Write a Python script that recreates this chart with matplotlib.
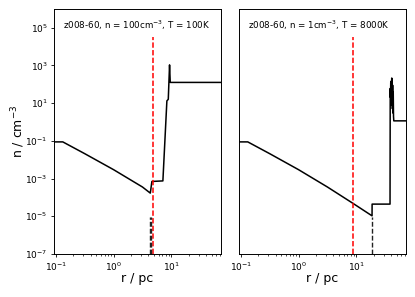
import matplotlib
matplotlib.use("Agg")
import matplotlib.pyplot as plt

# Left panel: n = 100 cm^-3, T = 100 K
r_left = [0.094, 0.132, 0.316, 1.0, 3.16, 4.3, 4.32, 4.6, 7.13, 8.36, 8.84, 9.3, 9.56, 72.0]
n_left = [0.088, 0.088, 0.0209, 2.95e-3, 3.55e-4, 1.7e-4, 1.7e-4, 7.0e-4, 7.5e-4, 13.2, 16.0, 1070.0, 126.0, 126.0]

# Right panel: n = 1 cm^-3, T = 8000 K
r_right = [0.094, 0.132, 0.316, 1.0, 3.16, 8.5, 18.7, 18.75, 38.3, 38.6, 39.0, 39.4, 39.8, 40.2,
           40.6, 41.0, 41.3, 41.7, 42.1, 42.5, 43.0, 43.5, 44.0, 44.5, 72.0]
n_right = [0.088, 0.088, 0.0209, 2.95e-3, 3.55e-4, 5.1e-5, 1.05e-5, 4.4e-5, 4.4e-5, 60.0, 20.0, 120.0,
           8.0, 150.0, 15.0, 215.0, 10.0, 180.0, 5.0, 90.0, 3.0, 40.0, 2.0, 1.15, 1.15]

titles = ["z008-60, n = 100cm$^{-3}$, T = 100K", "z008-60, n = 1cm$^{-3}$, T = 8000K"]
red_r = [4.78, 8.8]
red_top = 3.3e4
black_r = [[4.2, 4.45], [18.7]]
black_top = 9e-6
ybottom = 1e-7

fig = plt.figure(figsize=(4.15, 2.97), dpi=100)
ax1 = fig.add_axes([0.1308, 0.145, 0.4015, 0.825])
ax2 = fig.add_axes([0.5765, 0.145, 0.4015, 0.825])

for i, (ax, r, n) in enumerate([(ax1, r_left, n_left), (ax2, r_right, n_right)]):
    ax.plot(r, n, color="black", lw=1.1)
    ax.vlines(red_r[i], ybottom, red_top, colors="red", linestyles=(0, (3.5, 1.5)), lw=1.1)
    for br in black_r[i]:
        ax.vlines(br, ybottom, black_top, colors="#222222", linestyles=(0, (3.5, 1.5)), lw=1.0)
    ax.set_xscale("log")
    ax.set_yscale("log")
    ax.set_xlim(0.094, 72)
    ax.set_ylim(1e-7, 1e6)
    ax.text(0.055, 0.935, titles[i], transform=ax.transAxes, fontsize=6.3, va="center", ha="left")
    ax.tick_params(which="major", labelsize=6.5, length=2.5, width=0.6, pad=2.2)
    ax.tick_params(which="minor", length=1.5, width=0.5)
    for s in ax.spines.values():
        s.set_linewidth(0.7)
    ax.set_xlabel("r / pc", fontsize=9)
    ax.xaxis.set_label_coords(0.5, -0.075)
    ax.xaxis.label.set_va("top")

ax1.set_ylabel("n / cm$^{-3}$", fontsize=9)
ax1.yaxis.set_label_coords(-0.165, 0.5)
ax2.tick_params(axis="y", which="both", left=False, labelleft=False)

fig.savefig("out.png", dpi=100)
